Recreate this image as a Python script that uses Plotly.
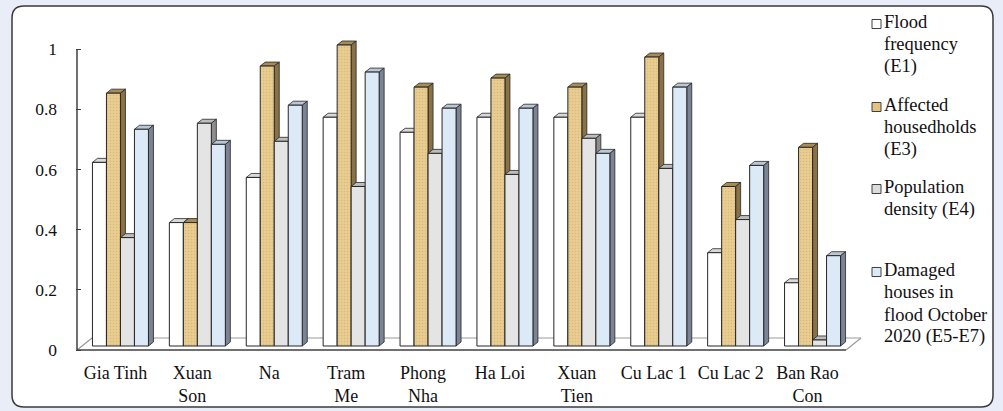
import plotly.graph_objects as go

# ---- data -------------------------------------------------------------
categories = ["Gia Tinh", "Xuan<br>Son", "Na", "Tram<br>Me", "Phong<br>Nha",
              "Ha Loi", "Xuan<br>Tien", "Cu Lac 1", "Cu Lac 2", "Ban Rao<br>Con"]

flood_frequency_e1 = [0.61, 0.41, 0.56, 0.76, 0.71, 0.76, 0.76, 0.76, 0.31, 0.21]
affected_households_e3 = [0.84, 0.41, 0.93, 1.00, 0.86, 0.89, 0.86, 0.96, 0.53, 0.66]
population_density_e4 = [0.36, 0.74, 0.68, 0.53, 0.64, 0.57, 0.69, 0.59, 0.42, 0.02]
damaged_houses_e5_e7 = [0.72, 0.67, 0.80, 0.91, 0.79, 0.79, 0.64, 0.86, 0.60, 0.30]

series_names = [["Flood", "frequency", "(E1)"],
                ["Affected", "housedholds", "(E3)"],
                ["Population", "density (E4)"],
                ["Damaged", "houses in", "flood October", "2020 (E5-E7)"]]
series_values = [flood_frequency_e1, affected_households_e3,
                 population_density_e4, damaged_houses_e5_e7]

y_tick_values = [0, 0.2, 0.4, 0.6, 0.8, 1]
y_tick_labels = ["0", "0.2", "0.4", "0.6", "0.8", "1"]

# ---- styling ----------------------------------------------------------
FONT = "Liberation Serif, Times New Roman, serif"
TEXT = "#111111"
front_colors = ["#ffffff", "#e8cc90", "#e4e4e4", "#dce9f7"]
top_colors = ["#d9d9d9", "#a88c56", "#bdbdbd", "#bcc7d5"]
side_colors = ["#a9a9a9", "#8b7246", "#8e8e8e", "#7a8494"]
legend_colors = ["#ffffff", "#e2c37f", "#dcdcdc", "#dce9f7"]
EDGE = "#262626"

W, H = 1003, 411
PX_X = 76.9          # pixels per category
PX_Y = 301.0         # pixels per unit value
M_L, M_R, M_T, M_B = 76, 139, 31, 59

x_lo = -0.5 - 1 / PX_X
x_hi = x_lo + (W - M_L - M_R) / PX_X
y_lo = -2 / PX_Y
y_hi = y_lo + (H - M_T - M_B) / PX_Y

# oblique depth of the floor and of the bars (converted to data units)
FLOOR_DX, FLOOR_DY = 15 / PX_X, 12 / PX_Y
BAR_DX, BAR_DY = 5 / PX_X, 4 / PX_Y
BAR_W = 14 / PX_X
BASE = BAR_DY                      # bars stand one third into the floor depth

n_cat = len(categories)
x_pos = list(range(n_cat))

fig = go.Figure()
shapes = []

# floor outline (behind the bars)
floor_col = "#9a9a9a"
shapes.append(dict(type="line", xref="x", yref="y", layer="below",
                   x0=-0.5 + FLOOR_DX, y0=FLOOR_DY, x1=n_cat - 0.5 + FLOOR_DX, y1=FLOOR_DY,
                   line=dict(color=floor_col, width=1.2)))
shapes.append(dict(type="line", xref="x", yref="y", layer="below",
                   x0=-0.5, y0=0, x1=-0.5 + FLOOR_DX, y1=FLOOR_DY,
                   line=dict(color=floor_col, width=1.2)))
shapes.append(dict(type="line", xref="x", yref="y", layer="below",
                   x0=n_cat - 0.5, y0=0, x1=n_cat - 0.5 + FLOOR_DX, y1=FLOOR_DY,
                   line=dict(color=floor_col, width=1.2)))

for i, (name, vals) in enumerate(zip(series_names, series_values)):
    offset = -2 * BAR_W + i * BAR_W + BAR_DX
    bar = dict(
        x=x_pos, y=vals, base=[BASE] * n_cat, width=BAR_W, offset=offset,
        name=" ".join(name), showlegend=False,
        marker=dict(color=front_colors[i], line=dict(color=EDGE, width=1)),
    )
    if i == 1:
        bar["marker"]["pattern"] = dict(shape=".", size=3, solidity=0.2,
                                        fgcolor="#c9a865", fillmode="overlay")
    fig.add_trace(go.Bar(**bar))

    # top and right-hand faces of each bar, drawn beneath the front faces
    for j, v in enumerate(vals):
        xl = j + offset
        xr = xl + BAR_W
        yb = BASE
        yt = BASE + v
        top = (f"M {xl},{yt} L {xr},{yt} L {xr + BAR_DX},{yt + BAR_DY} "
               f"L {xl + BAR_DX},{yt + BAR_DY} Z")
        side = (f"M {xr},{yb} L {xr + BAR_DX},{yb + BAR_DY} "
                f"L {xr + BAR_DX},{yt + BAR_DY} L {xr},{yt} Z")
        shapes.append(dict(type="path", path=top, xref="x", yref="y", layer="below",
                           fillcolor=top_colors[i], line=dict(color=EDGE, width=0.8)))
        shapes.append(dict(type="path", path=side, xref="x", yref="y", layer="below",
                           fillcolor=side_colors[i], line=dict(color=EDGE, width=0.8)))

# axis lines
shapes.append(dict(type="line", xref="x", yref="y", layer="above",
                   x0=-0.5, y0=0, x1=-0.5, y1=1,
                   line=dict(color="#404040", width=1.5)))
shapes.append(dict(type="line", xref="x", yref="y", layer="above",
                   x0=-0.5, y0=0, x1=n_cat - 0.5, y1=0,
                   line=dict(color="#404040", width=1.5)))

# rounded frame of the chart
pw = W - M_L - M_R
ph = H - M_T - M_B


def px(xp):
    return (xp - M_L) / pw


def py(yp):
    return (H - M_B - yp) / ph


fx0, fx1, fy0, fy1, r = 12, 993, 6, 407, 12
frame = (f"M {px(fx0 + r)},{py(fy0)} L {px(fx1 - r)},{py(fy0)} "
         f"Q {px(fx1)},{py(fy0)} {px(fx1)},{py(fy0 + r)} "
         f"L {px(fx1)},{py(fy1 - r)} Q {px(fx1)},{py(fy1)} {px(fx1 - r)},{py(fy1)} "
         f"L {px(fx0 + r)},{py(fy1)} Q {px(fx0)},{py(fy1)} {px(fx0)},{py(fy1 - r)} "
         f"L {px(fx0)},{py(fy0 + r)} Q {px(fx0)},{py(fy0)} {px(fx0 + r)},{py(fy0)} Z")
shapes.insert(0, dict(type="path", path=frame, xref="paper", yref="paper", layer="below",
                      fillcolor="#ffffff", line=dict(color="#3a3a3a", width=1.5)))

# legend: evenly spaced entries with small square keys, one text line per row
annotations = []
legend_first_line = [22, 105, 187, 270]
LINE_STEP = 22.3
for i, lines in enumerate(series_names):
    yc = legend_first_line[i]
    shapes.append(dict(type="rect", xref="paper", yref="paper", layer="above",
                       x0=px(872), x1=px(881), y0=py(yc + 2 - 4.5), y1=py(yc + 2 + 4.5),
                       fillcolor=legend_colors[i], line=dict(color="#404040", width=1)))
    for k, line in enumerate(lines):
        annotations.append(dict(xref="paper", yref="paper", x=px(882),
                                y=py(yc + k * LINE_STEP),
                                xanchor="left", yanchor="middle", align="left",
                                showarrow=False, text=line,
                                font=dict(family=FONT, size=18.5, color=TEXT)))

fig.update_layout(
    width=W, height=H,
    margin=dict(l=M_L, r=M_R, t=M_T, b=M_B, pad=0, autoexpand=False),
    paper_bgcolor="#e9edf8",
    plot_bgcolor="rgba(0,0,0,0)",
    barmode="overlay",
    shapes=shapes,
    annotations=annotations,
    showlegend=False,
    xaxis=dict(range=[x_lo, x_hi], tickvals=x_pos, ticktext=categories,
               ticks="", showgrid=False, zeroline=False, showline=False,
               automargin=False,
               tickfont=dict(family=FONT, size=18, color=TEXT),
               ticklabelstandoff=8),
    xaxis2=dict(range=[x_lo, x_hi], overlaying="x", anchor="y", side="bottom",
                tickvals=[k - 0.5 for k in range(n_cat + 1)], ticks="outside",
                ticklen=6, tickwidth=1.2, tickcolor="#404040", automargin=False,
                showticklabels=False, showgrid=False, zeroline=False, showline=False),
    yaxis=dict(range=[y_lo, y_hi], tickvals=y_tick_values, ticktext=y_tick_labels,
               ticks="inside", ticklen=5, tickwidth=1.2, tickcolor="#404040",
               showgrid=False, zeroline=False, showline=False, automargin=False,
               tickfont=dict(family=FONT, size=17.5, color=TEXT),
               ticklabelstandoff=18),
)

fig.write_html("out.html")
